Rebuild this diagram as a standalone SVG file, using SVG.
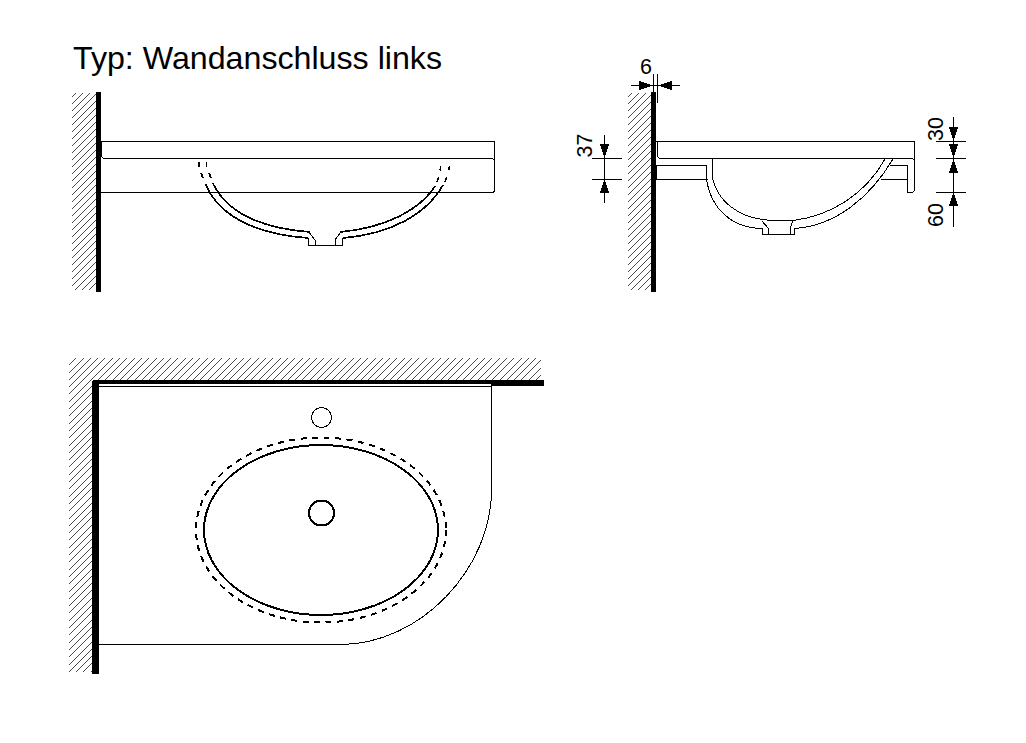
<svg xmlns="http://www.w3.org/2000/svg" width="1026" height="743" viewBox="0 0 1026 743">
<style>
path,ellipse,circle,rect,polygon{shape-rendering:crispEdges}
.l{fill:none;stroke:#000;stroke-width:1}
.t{fill:none;stroke:#000;stroke-width:1}
.b{fill:none;stroke:#000;stroke-width:1.7}
.h{fill:none;stroke:#000;stroke-width:.7}
.w{fill:#000}
.a{fill:#000}
text{font-family:"Liberation Sans",Arial,sans-serif;fill:#000}
.d{font-size:21.5px}
</style>
<defs>
<clipPath id="c1"><rect x="72" y="93" width="25" height="197"/></clipPath>
<clipPath id="c2"><polygon points="69,358 541,358 541,381 94,381 94,672 69,672"/></clipPath>
<path id="ha" class="h" d="M72 97l25-25m-25 32l25-25m-25 32l25-25m-25 32l25-25m-25 32l25-25m-25 32l25-25m-25 32l25-25m-25 32l25-25m-25 32l25-25m-25 32l25-25m-25 32l25-25m-25 32l25-25m-25 32l25-25m-25 32l25-25m-25 32l25-25m-25 32l25-25m-25 32l25-25m-25 32l25-25m-25 32l25-25m-25 32l25-25m-25 32l25-25m-25 32l25-25m-25 32l25-25m-25 32l25-25m-25 32l25-25m-25 32l25-25m-25 32l25-25m-25 32l25-25m-25 32l25-25m-25 32l25-25m-25 32l25-25"/>
<polygon id="ar" class="a" points="0,0 -14,-4.500 -14,4.500"/>
</defs>

<text id="title" x="73" y="68.500" font-size="32" textLength="369" lengthAdjust="spacingAndGlyphs">Typ: Wandanschluss links</text>

<g id="view-front">
<g clip-path="url(#c1)"><use href="#ha"/></g>
<rect class="w" x="96" y="92" width="5" height="200"/>
<path class="l" d="M101 141.500H494.500V190Q494.500 192.500 492 192.500H101"/>
<path class="l" d="M101.500 141.500V155Q101.500 158.500 105 158.500H491Q494.500 158.500 494.500 161"/>
<path class="b" d="M205.500 184C218 214 252 234 308 238M212.700 183C226 211 258 228 310 232M443 185C426 215 390 234 343 238M435 186C420 210 385 228 340 232"/>
<path class="b" d="M199 162V166.500M201 173L203 178M206.500 162V166.500M209 173L211 178M449.500 166.500L448.500 170.500M446.500 177.500L445 182M440.800 166.500L440 170.500M438.500 177.500L437 182"/>
<path class="t" d="M308.500 238V245.500H342V238M309.500 233L315 240V245M340 233L335 240V245"/>
</g>

<g id="view-side">
<g clip-path="url(#c1)" transform="translate(556 0)"><use href="#ha"/></g>
<rect class="w" x="651" y="92" width="5" height="200"/>
<rect class="w" x="655" y="165" width="2" height="14"/>
<path class="l" d="M656 141.500H914.500V189Q914.500 192.500 911 192.500H907.500V165.500H890M657.500 141.500V155Q657.500 158.500 661 158.500H911Q914.500 158.500 914.500 162M881 179.500H907.500"/>
<path class="l" d="M656 165.500H706.500V179M656 179.500H708"/>
<path class="t" d="M712 158V175C716 200 738 220 775 220.500H793C830 216 865 195 885 159"/>
<path class="t" d="M706.500 179C711 210 733 228 762 228.500V234.500H794V228.500C835 226 870 198 893 159"/>
<path class="t" d="M762 221L768 228V234M793 221L790 228V234"/>
</g>

<g id="dim-6">
<path class="l" d="M631 85.500H680M653.500 74V103M657.500 74V103"/>
<use href="#ar" transform="translate(653 85.500)"/>
<use href="#ar" transform="translate(657.500 85.500) rotate(180)"/>
<text class="d" x="640" y="73.500">6</text>
</g>

<g id="dim-37">
<path class="l" d="M604.500 135V203M592 158.500H622M592 179.500H622"/>
<use href="#ar" transform="translate(604.500 158) rotate(90)"/>
<use href="#ar" transform="translate(604.500 179) rotate(-90)"/>
<text class="d" transform="translate(592 157.500) rotate(-90)">37</text>
</g>

<g id="dim-30-60">
<path class="l" d="M953.500 117V227M936 141.500H966M936 158.500H966M936 192.500H966"/>
<use href="#ar" transform="translate(953.500 141) rotate(90)"/>
<use href="#ar" transform="translate(953.500 158) rotate(90)"/>
<use href="#ar" transform="translate(953.500 159) rotate(-90)"/>
<use href="#ar" transform="translate(953.500 192) rotate(-90)"/>
<text class="d" transform="translate(943 141) rotate(-90)">30</text>
<text class="d" transform="translate(943 227) rotate(-90)">60</text>
</g>

<g id="view-plan">
<path clip-path="url(#c2)" class="h" d="M-245 672l314-314m-306.700 314l314-314m-306.700 314l314-314m-306.700 314l314-314m-306.700 314l314-314m-306.700 314l314-314m-306.700 314l314-314m-306.700 314l314-314m-306.700 314l314-314m-306.700 314l314-314m-306.700 314l314-314m-306.700 314l314-314m-306.700 314l314-314m-306.700 314l314-314m-306.700 314l314-314m-306.700 314l314-314m-306.700 314l314-314m-306.700 314l314-314m-306.700 314l314-314m-306.700 314l314-314m-306.700 314l314-314m-306.700 314l314-314m-306.700 314l314-314m-306.700 314l314-314m-306.700 314l314-314m-306.700 314l314-314m-306.700 314l314-314m-306.700 314l314-314m-306.700 314l314-314m-306.700 314l314-314m-306.700 314l314-314m-306.700 314l314-314m-306.700 314l314-314m-306.700 314l314-314m-306.700 314l314-314m-306.700 314l314-314m-306.700 314l314-314m-306.700 314l314-314m-306.700 314l314-314m-306.700 314l314-314m-306.700 314l314-314m-306.700 314l314-314m-306.700 314l314-314m-306.700 314l314-314m-306.700 314l314-314m-306.700 314l314-314m-306.700 314l314-314m-306.700 314l314-314m-306.700 314l314-314m-306.700 314l314-314m-306.700 314l314-314m-306.700 314l314-314m-306.700 314l314-314m-306.700 314l314-314m-306.700 314l314-314m-306.700 314l314-314m-306.700 314l314-314m-306.700 314l314-314m-306.700 314l314-314m-306.700 314l314-314m-306.700 314l314-314m-306.700 314l314-314m-306.700 314l314-314m-306.700 314l314-314m-306.700 314l314-314m-306.700 314l314-314m-306.700 314l314-314m-306.700 314l314-314m-306.700 314l314-314m-306.700 314l314-314m-306.700 314l314-314m-306.700 314l314-314m-306.700 314l314-314m-306.700 314l314-314m-306.700 314l314-314"/>
<path class="w" d="M95 380H544V386H491V384H99V674H92V383Q92 380 95 380Z"/>
<path class="l" d="M99 386.500H491.500M99 644.500H341"/>
<path class="t" d="M491.500 386V490C491 570 420 644 341 644.500"/>
<ellipse cx="321" cy="530" rx="117" ry="85" fill="none" stroke="#000" stroke-width="2"/>
<ellipse cx="321" cy="530" rx="125" ry="92.500" fill="none" stroke="#000" stroke-width="2" stroke-dasharray="6 5.500"/>
<circle cx="321.500" cy="417.500" r="10" class="t"/>
<circle cx="321.500" cy="513" r="12.500" fill="none" stroke="#000" stroke-width="2"/>
</g>
</svg>
